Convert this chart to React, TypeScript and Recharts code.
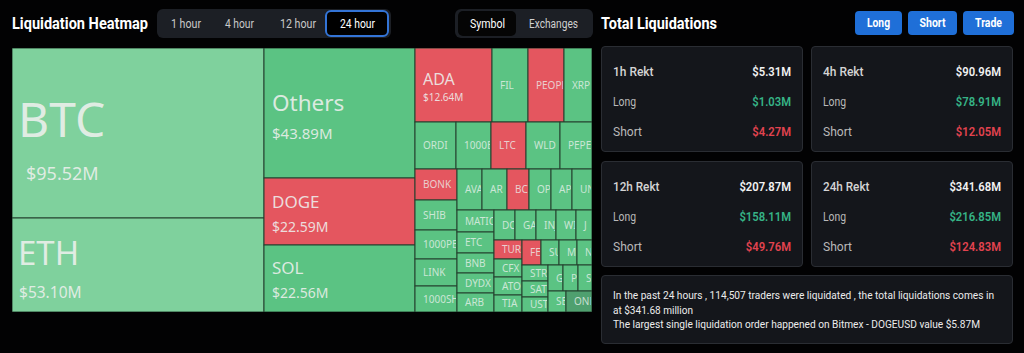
import React from 'react';
import { Treemap } from 'recharts';

// liquidation heatmap, 24h, values in $M
const coins = [
  'BTC', 'ETH', 'Others', 'DOGE', 'SOL',
  'ADA', 'FIL', 'PEOPLE', 'XRP',
  'ORDI', '1000BONK', 'LTC', 'WLD', 'PEPE',
  'BONK', 'SHIB', '1000PEPE', 'LINK', '1000SHIB',
  'AVAX', 'AR', 'BCH', 'OP', 'APT', 'UNI',
  'MATIC', 'ETC', 'BNB', 'DYDX', 'ARB',
  'DOT', 'GALA', 'INJ', 'WIF', 'JUP',
  'TURBO', 'CFX', 'ATOM', 'TIA',
  'FET', 'SUI', 'MINA', 'NEAR',
  'STRK', 'SATS', 'USTC',
  'GMT', 'PYTH', 'STX',
  'SEI', 'ONDO',
];
const liquidations = [
  95.52, 53.1, 43.89, 22.59, 22.56,
  12.64, 6.0, 5.9, 4.6,
  4.35, 3.71, 3.7, 3.6, 3.39,
  2.9, 2.85, 2.72, 2.53, 2.34,
  2.3, 2.25, 2.05, 2.0, 1.95, 1.8,
  1.78, 1.76, 1.65, 1.62, 1.58,
  1.4, 1.38, 1.35, 1.33, 1.2,
  1.16, 1.14, 1.12, 1.1,
  1.05, 1.03, 1.0, 0.9,
  0.9, 0.9, 0.88,
  0.86, 0.85, 0.84,
  0.84, 0.83,
];
// coins where shorts got wiped more than longs
const shortHeavy = ['DOGE', 'ADA', 'PEOPLE', 'LTC', 'BONK', 'BCH', 'TURBO', 'FET'];

const periods = ['1h Rekt', '4h Rekt', '12h Rekt', '24h Rekt'];
const totals = ['$5.31M', '$90.96M', '$207.87M', '$341.68M'];
const longs = ['$1.03M', '$78.91M', '$158.11M', '$216.85M'];
const shorts = ['$4.27M', '$12.05M', '$49.76M', '$124.83M'];

const timeTabs = ['1 hour', '4 hour', '12 hour', '24 hour'];
const summary = [
  'In the past 24 hours , 114,507 traders were liquidated , the total liquidations comes in',
  'at $341.68 million',
  'The largest single liquidation order happened on Bitmex - DOGEUSD value $5.87M',
];

const heatmapData = coins.map((name, i) => ({
  name,
  size: liquidations[i],
  short: shortHeavy.includes(name),
}));

const UI_FONT = 'Roboto, "Noto Sans", sans-serif';
const MAP_FONT = '"Noto Sans", Roboto, sans-serif';

const bigLabels: Record<string, { n: number; ny: number; v: number; vy: number; dx: number; vdx: number }> = {
  BTC: { n: 48, ny: 89, v: 18, vy: 132, dx: 6, vdx: 14 },
  ETH: { n: 33, ny: 47, v: 15.5, vy: 80, dx: 6, vdx: 7 },
  Others: { n: 22.5, ny: 63, v: 15, vy: 91, dx: 8, vdx: 8 },
  DOGE: { n: 17, ny: 30, v: 14, vy: 54, dx: 8, vdx: 8 },
  SOL: { n: 17, ny: 29, v: 14, vy: 53, dx: 8, vdx: 8 },
  ADA: { n: 16, ny: 37, v: 10, vy: 53, dx: 8, vdx: 8 },
};

function fillFor(name: string, short: boolean) {
  if (short) return '#e4565f';
  if (name === 'BTC' || name === 'ETH') return '#7fd19d';
  if (name === 'ONDO') return '#4fa06f';
  return '#5bc383';
}

// rough Noto Sans advance widths at 10px, used to cut labels that overflow the cell like the site does
function charW(c: string) {
  if (c === 'I') return 3.2;
  if (c === 'M' || c === 'W') return 8.8;
  if (/[0-9]/.test(c)) return 5.7;
  return 6.6;
}
function fitLabel(name: string, room: number) {
  let w = 0;
  let out = '';
  for (const c of name) {
    w += charW(c);
    if (w > room + 6) break;
    out += c;
  }
  return out;
}

function HeatCell(props: any) {
  const { x, y, width, height, depth, name, value, index, short } = props;
  if (depth !== 1) return null;
  const big = bigLabels[name];
  const id = `cell-clip-${index}`;
  return (
    <g>
      <rect x={x} y={y} width={width} height={height} fill={fillFor(name, short)} stroke="#24402f" strokeWidth={1} />
      <clipPath id={id}>
        <rect x={x} y={y} width={Math.max(width - 1, 0)} height={height} />
      </clipPath>
      {big ? (
        <g fontFamily={MAP_FONT} fill="rgba(238,240,238,0.88)">
          <text x={x + big.dx} y={y + big.ny} fontSize={big.n}>{name}</text>
          <text x={x + big.vdx} y={y + big.vy} fontSize={big.v}>${value.toFixed(2)}M</text>
        </g>
      ) : (
        <text
          x={x + 8}
          y={y + height / 2 + 3.5}
          fontSize={10}
          fontFamily={MAP_FONT}
          fill="rgba(235,242,238,0.78)"
          clipPath={`url(#${id})`}
        >
          {fitLabel(name, width - 9)}
        </text>
      )}
    </g>
  );
}

// the site's font is a narrow one, so squeeze Roboto to the measured width
function T({ x, y, w, size, weight = 400, color = '#fff', anchor = 'start', children }: any) {
  return (
    <text x={x} y={y} fontSize={size} fontWeight={weight} fill={color} textAnchor={anchor}
      textLength={w} lengthAdjust="spacingAndGlyphs">
      {children}
    </text>
  );
}

const Box = ({ left, top, width, height }: any) => (
  <div style={{
    position: 'absolute', left, top, width, height, boxSizing: 'border-box',
    background: '#14161b', border: '1px solid #2a2d33', borderRadius: 4,
  }} />
);

export default function App() {
  const tabX = [171, 225, 280, 340];
  const tabW = [30, 29, 36, 35];
  const cards = [
    { x: 601, y: 46 }, { x: 811, y: 46 }, { x: 601, y: 161 }, { x: 811, y: 161 },
  ];
  const btn = [
    { label: 'Long', left: 855, w: 47, tw: 23 },
    { label: 'Short', left: 908, w: 49, tw: 26 },
    { label: 'Trade', left: 963, w: 51, tw: 27 },
  ];
  const summaryW = [381, 80, 367];

  return (
    <div style={{
      position: 'fixed', left: 0, top: 0, width: 1024, height: 353,
      background: '#020203', fontFamily: UI_FONT, color: '#fff', overflow: 'hidden',
    }}>
      {/* time range tabs */}
      <div style={{ position: 'absolute', left: 157, top: 9, width: 234, height: 29, background: '#1c1f25', borderRadius: 6 }} />
      <div style={{
        position: 'absolute', left: 325, top: 10, width: 64, height: 27, boxSizing: 'border-box',
        background: '#000', border: '2px solid #3374d6', borderRadius: 6,
      }} />
      {/* symbol / exchanges */}
      <div style={{ position: 'absolute', left: 455, top: 9, width: 138, height: 29, background: '#1c1f25', borderRadius: 6 }} />
      <div style={{ position: 'absolute', left: 458, top: 11, width: 58, height: 25, background: '#050505', borderRadius: 5 }} />

      {btn.map((b) => (
        <div key={b.label} style={{
          position: 'absolute', left: b.left, top: 11, width: b.w, height: 24, background: '#1f6fd8', borderRadius: 4,
        }} />
      ))}

      {cards.map((c, i) => <Box key={i} left={c.x} top={c.y} width={202} height={106} />)}
      <Box left={601} top={275} width={412} height={69} />

      <div style={{ position: 'absolute', left: 12, top: 48 }}>
        <Treemap
          width={580}
          height={264}
          data={heatmapData}
          dataKey="size"
          nameKey="name"
          aspectRatio={0.5 * (1 + Math.sqrt(5))}
          isAnimationActive={false}
          content={<HeatCell />}
        />
      </div>

      <svg width={1024} height={353} style={{ position: 'absolute', left: 0, top: 0, pointerEvents: 'none' }} fontFamily={UI_FONT}>
        <T x={12} y={29} w={136} size={16.5} weight={700}>Liquidation Heatmap</T>
        {timeTabs.map((t, i) => (
          <T key={t} x={tabX[i]} y={27.5} w={tabW[i]} size={12.5} color={i === 3 ? '#fff' : '#c9c9c9'}>{t}</T>
        ))}
        <T x={470} y={27.5} w={35} size={12.5}>Symbol</T>
        <T x={529} y={27.5} w={49} size={12.5} color="#d0d0d0">Exchanges</T>

        <T x={601} y={29} w={116} size={16.5} weight={700}>Total Liquidations</T>
        {btn.map((b) => (
          <T key={b.label} x={b.left + b.w / 2} y={27} w={b.tw} size={12.5} weight={700} anchor="middle">{b.label}</T>
        ))}

        {cards.map((c, i) => {
          const right = c.x + 190;
          const rows = [
            { label: periods[i], val: totals[i], color: '#f2f2f2', lc: '#d4d4d4', lw: 500 },
            { label: 'Long', val: longs[i], color: '#36b386', lc: '#b9b9b9', lw: 400 },
            { label: 'Short', val: shorts[i], color: '#e2434f', lc: '#b9b9b9', lw: 400 },
          ];
          return (
            <g key={i}>
              {rows.map((r, j) => (
                <g key={j}>
                  <T x={c.x + 12} y={c.y + 30 + j * 30} w={r.label.length * 5.8} size={13.5} weight={r.lw} color={r.lc}>{r.label}</T>
                  <T x={right} y={c.y + 30 + j * 30} w={r.val.length * 6.45} size={13.5} weight={600} color={r.color} anchor="end">{r.val}</T>
                </g>
              ))}
            </g>
          );
        })}

        {summary.map((line, i) => (
          <T key={i} x={613} y={299 + i * 14.7} w={summaryW[i]} size={11.5} color="#ececec">{line}</T>
        ))}
      </svg>
    </div>
  );
}
